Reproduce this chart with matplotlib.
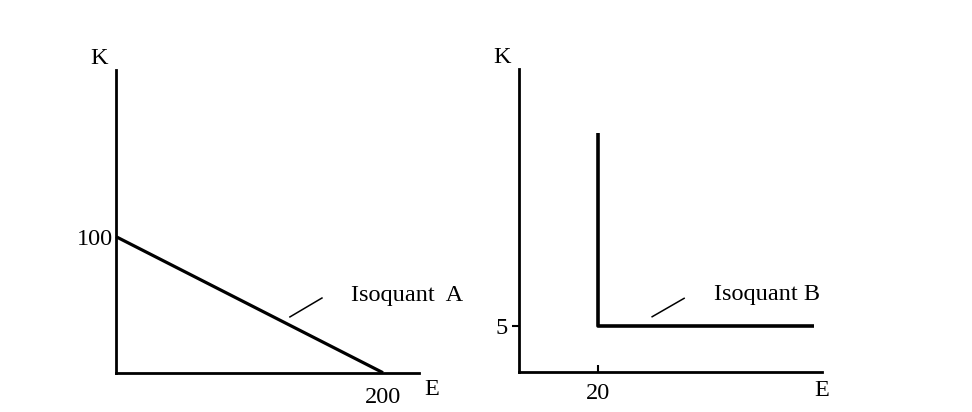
import matplotlib
matplotlib.use("Agg")
import matplotlib.pyplot as plt

plt.rcParams['font.family'] = ['Liberation Serif', 'DejaVu Serif']

# isoquant A: straight line (perfect substitutes)
isoA_E = [0, 200]
isoA_K = [100, 0]
# isoquant B: L-shape (fixed proportions)
isoB_E = [20, 20, 74.8]
isoB_K = [26, 5, 5]

labelA = "Isoquant  A"
labelB = "Isoquant B"

fs = 17.5

fig = plt.figure(figsize=(9.72, 4.12), dpi=100)

# ---- left panel
ax1 = fig.add_axes([116/972, 1-372.7/412, 303/972, 302.7/412])
ax1.set_xlim(0, 227)
ax1.set_ylim(0, 222.5)
ax1.plot(isoA_E, isoA_K, color='black', lw=2.3, solid_capstyle='butt', clip_on=False)
ax1.plot([130.3, 154.3], [41, 54.9], color='black', lw=1.1)
ax1.text(176, 57, labelA, fontsize=fs, va='center', ha='left')
ax1.set_xticks([isoA_E[1]])
ax1.set_xticklabels([str(isoA_E[1])])
ax1.set_yticks([isoA_K[0]])
ax1.set_yticklabels([str(isoA_K[0])])
ax1.tick_params(axis='both', length=0, labelsize=fs)
ax1.tick_params(axis='x', pad=10)
ax1.tick_params(axis='y', pad=2)
ax1.text(236.7, -12.7, "E", fontsize=fs, ha='center', va='center', clip_on=False)
ax1.text(-12.7, 231, "K", fontsize=fs, ha='center', va='center', clip_on=False)

# ---- right panel
ax2 = fig.add_axes([519/972, 1-372/412, 303/972, 303/412])
ax2.set_xlim(0, 76.7)
ax2.set_ylim(0, 32.9)
ax2.plot(isoB_E, isoB_K, color='black', lw=2.6, solid_capstyle='butt', clip_on=False)
ax2.plot([33.7, 41.8], [6.0, 8.0], color='black', lw=1.1)
ax2.text(49.4, 8.4, labelB, fontsize=fs, va='center', ha='left')
ax2.set_xticks([isoB_E[0]])
ax2.set_xticklabels([str(isoB_E[0])])
ax2.set_yticks([isoB_K[1]])
ax2.set_yticklabels([str(isoB_K[1])])
ax2.tick_params(axis='both', length=5, width=1.5, labelsize=fs)
ax2.tick_params(axis='x', direction='in', pad=8)
ax2.tick_params(axis='y', direction='out', pad=3)
ax2.text(76.7, -1.96, "E", fontsize=fs, ha='center', va='center', clip_on=False)
ax2.text(-4.3, 34.1, "K", fontsize=fs, ha='center', va='center', clip_on=False)

for ax in (ax1, ax2):
    ax.spines['top'].set_visible(False)
    ax.spines['right'].set_visible(False)
    ax.spines['left'].set_linewidth(2)
    ax.spines['bottom'].set_linewidth(2)
    ax.patch.set_alpha(0)

fig.savefig("out.png", dpi=100)
